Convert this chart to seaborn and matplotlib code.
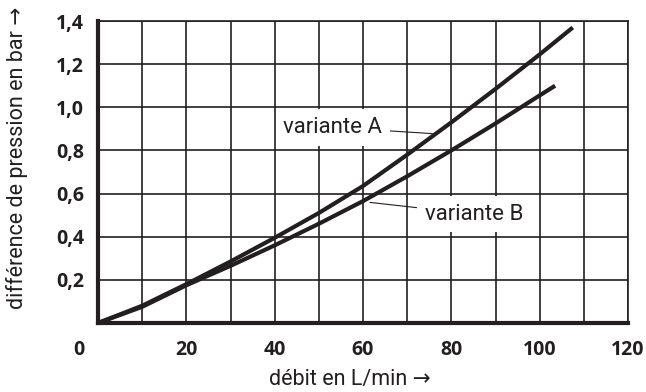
import matplotlib
matplotlib.use("Agg")
import matplotlib.pyplot as plt
import matplotlib.transforms as mtransforms
import pandas as pd
import seaborn as sns

# Flow rate (L/min) and pressure drop (bar) for the two variants
flow_a = [0, 10, 20, 30, 40, 50, 60, 70, 80, 90, 100, 107.5]
dp_a = [0, 0.08, 0.18, 0.285, 0.395, 0.51, 0.635, 0.78, 0.93, 1.085, 1.245, 1.37]
flow_b = [0, 10, 20, 30, 40, 50, 60, 70, 80, 90, 100, 103.5]
dp_b = [0, 0.075, 0.175, 0.265, 0.36, 0.46, 0.565, 0.68, 0.80, 0.925, 1.055, 1.10]

x_ticks = [0, 10, 20, 30, 40, 50, 60, 70, 80, 90, 100, 110, 120]
x_tick_labels = ["", "", "20", "", "40", "", "60", "", "80", "", "100", "", "120"]
y_ticks = [0.2, 0.4, 0.6, 0.8, 1.0, 1.2, 1.4]
y_tick_labels = ["0,2", "0,4", "0,6", "0,8", "1,0", "1,2", "1,4"]

label_a = "variante A"
label_b = "variante B"
x_label = "débit en L/min \u2192"
y_label = "différence de pression en bar \u2192"

ink = "#231f20"
text_family = ["Roboto", "DejaVu Sans"]
tick_family = ["Open Sans", "DejaVu Sans"]

df = pd.concat([
    pd.DataFrame({"flow": flow_a, "dp": dp_a, "variant": label_a}),
    pd.DataFrame({"flow": flow_b, "dp": dp_b, "variant": label_b}),
])

sns.set_theme(style="white")
plt.rcParams["font.family"] = text_family

fig = plt.figure(figsize=(6.46, 3.92), dpi=100)
ax = fig.add_axes([98 / 646, 1 - 323 / 392, 530 / 646, 302 / 392])

sns.lineplot(data=df, x="flow", y="dp", hue="variant",
             palette=[ink, ink], linewidth=3.0, legend=False, ax=ax,
             solid_capstyle="butt", sort=False)

ax.set_xlim(0, 120)
ax.set_ylim(0, 1.4)
ax.set_xticks(x_ticks)
ax.set_xticklabels(x_tick_labels)
ax.set_yticks(y_ticks)
ax.set_yticklabels(y_tick_labels)

for lbl in ax.get_xticklabels() + ax.get_yticklabels():
    lbl.set_fontfamily(tick_family)
    lbl.set_fontweight("bold")
    lbl.set_fontsize(14)
    lbl.set_color(ink)
ax.tick_params(axis="both", length=0)
ax.tick_params(axis="x", pad=12)
ax.tick_params(axis="y", pad=10)

# shared origin label, set off to the lower left of the corner
origin = ax.text(-4.3, 0, "0", ha="center", va="top",
                 fontfamily=tick_family, fontweight="bold", fontsize=14,
                 color=ink, zorder=5)
origin.set_transform(
    ax.transData + mtransforms.ScaledTranslation(0, -12 / 72, fig.dpi_scale_trans))

ax.grid(True, color=ink, linewidth=1.2)
ax.set_axisbelow(True)
for side in ["top", "right"]:
    ax.spines[side].set_linewidth(1.2)
    ax.spines[side].set_color(ink)
for side in ["left", "bottom"]:
    ax.spines[side].set_linewidth(3.0)
    ax.spines[side].set_color(ink)

ax.set_xlabel(x_label, fontsize=15.5, color=ink, va="top")
ax.set_ylabel(y_label, fontsize=15.5, color=ink)
ax.xaxis.set_label_coords(0.476, -0.152)
ax.yaxis.set_label_coords(-0.132, 0.546)

line_props = dict(arrowstyle="-", color=ink, linewidth=0.8,
                  shrinkA=0, shrinkB=0)
ax.annotate(label_a, xy=(75.7, 0.878), xytext=(53.2, 0.907),
            ha="center", va="center", fontsize=16, color=ink,
            bbox=dict(boxstyle="square,pad=0.35", fc="white", ec="none"),
            arrowprops=line_props, zorder=4)
ax.annotate(label_b, xy=(61.6, 0.559), xytext=(85.1, 0.505),
            ha="center", va="center", fontsize=16, color=ink,
            bbox=dict(boxstyle="square,pad=0.35", fc="white", ec="none"),
            arrowprops=line_props, zorder=4)

fig.savefig("out.png", dpi=100, facecolor="white")
